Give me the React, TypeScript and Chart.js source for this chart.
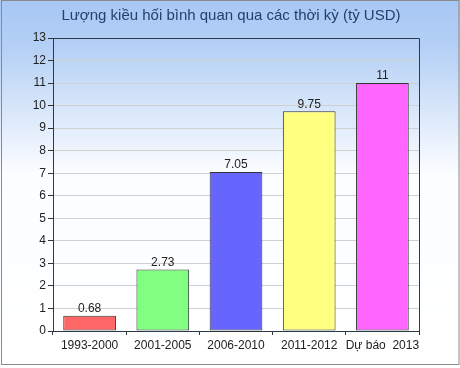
import React, { useEffect, useRef } from "react";
import { Chart, registerables } from "chart.js";
Chart.register(...registerables);

const categories = ["1993-2000", "2001-2005", "2006-2010", "2011-2012", "Dự báo  2013"];
const values = [0.68, 2.73, 7.05, 9.75, 11];
const valueLabels = ["0.68", "2.73", "7.05", "9.75", "11"];
const barColors = ["#ff6666", "#80ff80", "#6666ff", "#ffff80", "#ff66ff"];
const titleText = "Lượng kiều hối bình quan qua các thời kỳ (tỷ USD)";
const yMax = 13;

const FONT = "'Liberation Sans', Arial, sans-serif";

const bgPlugin = {
  id: "bgPlugin",
  beforeDraw(chart: any) {
    const { ctx, width, height } = chart;
    ctx.save();
    const g = ctx.createLinearGradient(0, 0, 0, height);
    g.addColorStop(0, "#a7c7f3");
    g.addColorStop(0.12, "#b3cff5");
    g.addColorStop(0.47, "#fbfdff");
    g.addColorStop(1, "#ffffff");
    ctx.fillStyle = g;
    ctx.fillRect(0, 0, width, height);
    ctx.strokeStyle = "#8a8a8a";
    ctx.lineWidth = 1;
    ctx.strokeRect(1.5, 0.5, width - 2.5, height - 4);
    ctx.fillStyle = "#24406e";
    ctx.font = "15px " + FONT;
    ctx.textAlign = "center";
    ctx.textBaseline = "middle";
    ctx.fillText(titleText, width / 2 + 1, 16);
    ctx.restore();
  },
  afterDatasetsDraw(chart: any) {
    const { ctx, chartArea } = chart;
    ctx.save();
    ctx.strokeStyle = "#2b3a4a";
    ctx.lineWidth = 1;
    ctx.beginPath();
    ctx.moveTo(Math.round(chartArea.left) + 0.5, Math.round(chartArea.bottom) + 0.5);
    ctx.lineTo(Math.round(chartArea.left) + 0.5, Math.round(chartArea.top) + 0.5);
    ctx.lineTo(Math.round(chartArea.right) + 0.5, Math.round(chartArea.top) + 0.5);
    ctx.lineTo(Math.round(chartArea.right) + 0.5, Math.round(chartArea.bottom) + 0.5);
    ctx.stroke();
    const meta = chart.getDatasetMeta(0);
    ctx.fillStyle = "#222";
    ctx.font = "12px " + FONT;
    ctx.textAlign = "center";
    ctx.textBaseline = "bottom";
    meta.data.forEach((bar: any, i: number) => {
      ctx.fillText(valueLabels[i], bar.x, bar.y - 1);
    });
    ctx.restore();
  },
};

export default function App() {
  const ref = useRef<HTMLCanvasElement>(null);
  useEffect(() => {
    document.body.style.margin = "0";
    const chart = new Chart(ref.current!, {
      type: "bar",
      data: {
        labels: categories,
        datasets: [
          {
            data: values,
            backgroundColor: barColors,
            borderColor: "#333333",
            borderWidth: 1,
            borderSkipped: false,
            categoryPercentage: 0.72,
            barPercentage: 1,
          },
        ],
      },
      options: {
        animation: false,
        responsive: false,
        layout: { padding: { left: 0, top: 38, right: 41, bottom: 0 } },
        plugins: { legend: { display: false }, title: { display: false }, tooltip: { enabled: false } },
        scales: {
          x: {
            grid: { display: true, drawOnChartArea: false, drawTicks: true, tickLength: 4, color: "#333" },
            border: { display: true, color: "#2b3a4a" },
            ticks: { color: "#222", font: { size: 12, family: FONT }, padding: 3, maxRotation: 0, minRotation: 0, autoSkip: false },
            afterFit(s: any) { s.height = 37; },
          },
          y: {
            min: 0,
            max: yMax,
            ticks: { stepSize: 1, color: "#222", font: { size: 12, family: FONT }, padding: 2 },
            grid: { color: "#d0d0d0", tickLength: 5, tickColor: "#333" },
            border: { display: true, color: "#2b3a4a" },
            afterFit(s: any) { s.width = 53; },
          },
        },
      },
      plugins: [bgPlugin],
    });
    return () => chart.destroy();
  }, []);
  return <canvas ref={ref} width={460} height={368} style={{ display: "block" }} />;
}
